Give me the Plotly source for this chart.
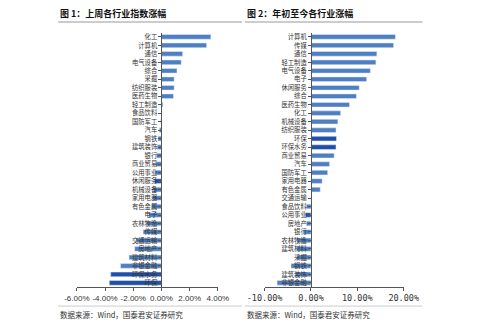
import plotly.graph_objects as go

# ---- data ----
cats1 = ["化工", "计算机", "通信", "电气设备", "综合", "采掘", "纺织服装", "医药生物", "轻工制造",
         "食品饮料", "国防军工", "汽车", "钢铁", "建筑装饰", "银行", "商业贸易", "公用事业", "休闲服务",
         "机械设备", "家用电器", "有色金属", "电子", "农林牧渔", "传媒", "交通运输", "房地产",
         "建筑材料", "非银金融", "环保水务", "环保"]
vals1 = [3.5, 3.2, 1.5, 1.4, 1.1, 0.9, 0.9, 0.85, 0.1, 0.03, -0.05, -0.15, -0.25, -0.3, -0.35,
         -0.4, -0.45, -0.5, -0.55, -0.6, -0.7, -0.9, -1.05, -1.3, -1.8, -1.9, -2.3, -2.9, -3.6, -3.7]

cats2 = ["计算机", "传媒", "通信", "轻工制造", "电气设备", "电子", "休闲服务", "综合", "医药生物",
         "化工", "机械设备", "纺织服装", "环保", "环保水务", "商业贸易", "汽车", "国防军工", "家用电器",
         "有色金属", "交通运输", "食品饮料", "公用事业", "房地产", "银行", "农林牧渔", "建筑材料",
         "采掘", "钢铁", "建筑装饰", "非银金融"]
vals2 = [18.2, 17.8, 14.2, 14.0, 12.8, 12.0, 10.4, 9.8, 8.3, 6.4, 5.8, 5.4, 5.5, 5.4, 5.0, 4.0,
         3.6, 2.4, 2.0, 0.2, -1.0, -1.2, -1.0, -1.7, -3.0, -3.1, -3.0, -4.3, -3.4, -7.3]

ticks1 = [-6, -4, -2, 0, 2, 4]
ticks2 = [-10, 0, 10, 20]

title1 = "图 1：上周各行业指数涨幅"
title2 = "图 2：年初至今各行业涨幅"
source = "数据来源：Wind，国泰君安证券研究"

# ---- style ----
BLUE = "#4E7FC2"
DARK = "#1F4FA8"
dark1 = {"休闲服务", "环保水务", "环保"}
dark2 = {"环保", "环保水务", "公用事业"}
col1 = [DARK if c in dark1 else BLUE for c in cats1]
col2 = [DARK if c in dark2 else BLUE for c in cats2]

W, H = 500, 327
def px(x): return x / W
def py(y): return 1 - y / H

xr1 = [-6, 4]
xr2 = [-10, 20]
dom1 = [px(63), px(214)]
dom2 = [px(264), px(413)]
ydom = [py(287), py(31.7)]

def zero_pos(rng, dom):
    return dom[0] + (0 - rng[0]) / (rng[1] - rng[0]) * (dom[1] - dom[0])

fig = go.Figure()
fig.add_trace(go.Bar(x=vals1, y=cats1, orientation="h", marker_color=col1, width=0.55,
                     xaxis="x", yaxis="y", showlegend=False))
fig.add_trace(go.Bar(x=vals2, y=cats2, orientation="h", marker_color=col2, width=0.55,
                     xaxis="x2", yaxis="y2", showlegend=False))

axis_common = dict(showgrid=False, zeroline=False, showline=True, linecolor="#555", linewidth=1,
                   ticks="outside", ticklen=3, tickcolor="#555")

fig.update_layout(
    width=W, height=H, margin=dict(l=0, r=0, t=0, b=0),
    paper_bgcolor="white", plot_bgcolor="white",
    xaxis=dict(domain=dom1, range=xr1, anchor="y", tickvals=ticks1,
               ticktext=[f"{v:.2f}%" for v in ticks1],
               tickfont=dict(family="Liberation Sans, Arial", size=8, color="#333"), **axis_common),
    yaxis=dict(domain=ydom, anchor="free", position=zero_pos(xr1, dom1),
               type="category", tickmode="array", tickvals=cats1, ticktext=cats1,
               categoryorder="array", categoryarray=cats1, autorange="reversed",
               tickfont=dict(family="Noto Sans CJK SC", size=6.3, color="#333"),
               **axis_common),
    xaxis2=dict(domain=dom2, range=xr2, anchor="y2", tickvals=ticks2,
                ticktext=[f"{v:.2f}%" for v in ticks2],
                tickfont=dict(family="DejaVu Sans Mono", size=8.5, color="#333"), **axis_common),
    yaxis2=dict(domain=ydom, anchor="free", position=zero_pos(xr2, dom2),
                type="category", tickmode="array", tickvals=cats2, ticktext=cats2,
                categoryorder="array", categoryarray=cats2, autorange="reversed",
                tickfont=dict(family="Noto Sans CJK SC", size=6.3, color="#333"),
                **axis_common),
)

anns = []
for x0, t in [(43, title1), (243, title2)]:
    anns.append(dict(x=px(x0), y=py(13), xref="paper", yref="paper", text=f"<b>{t}</b>",
                     showarrow=False, xanchor="left", yanchor="middle",
                     font=dict(family="Noto Sans CJK SC", size=9, color="#111")))
    anns.append(dict(x=px(x0), y=py(314), xref="paper", yref="paper", text=source,
                     showarrow=False, xanchor="left", yanchor="middle",
                     font=dict(family="Noto Sans CJK SC", size=7.5, color="#333")))
fig.update_layout(annotations=anns)

shapes = []
for x0, x1 in [(43, 240), (243, 433)]:
    shapes.append(dict(type="line", xref="paper", yref="paper", x0=px(x0), x1=px(x1),
                       y0=py(21), y1=py(21), line=dict(color="#bbb", width=1.5)))
    shapes.append(dict(type="line", xref="paper", yref="paper", x0=px(x0), x1=px(x1),
                       y0=py(306), y1=py(306), line=dict(color="#ccc", width=1)))
fig.update_layout(shapes=shapes)

fig.write_html("out.html")
